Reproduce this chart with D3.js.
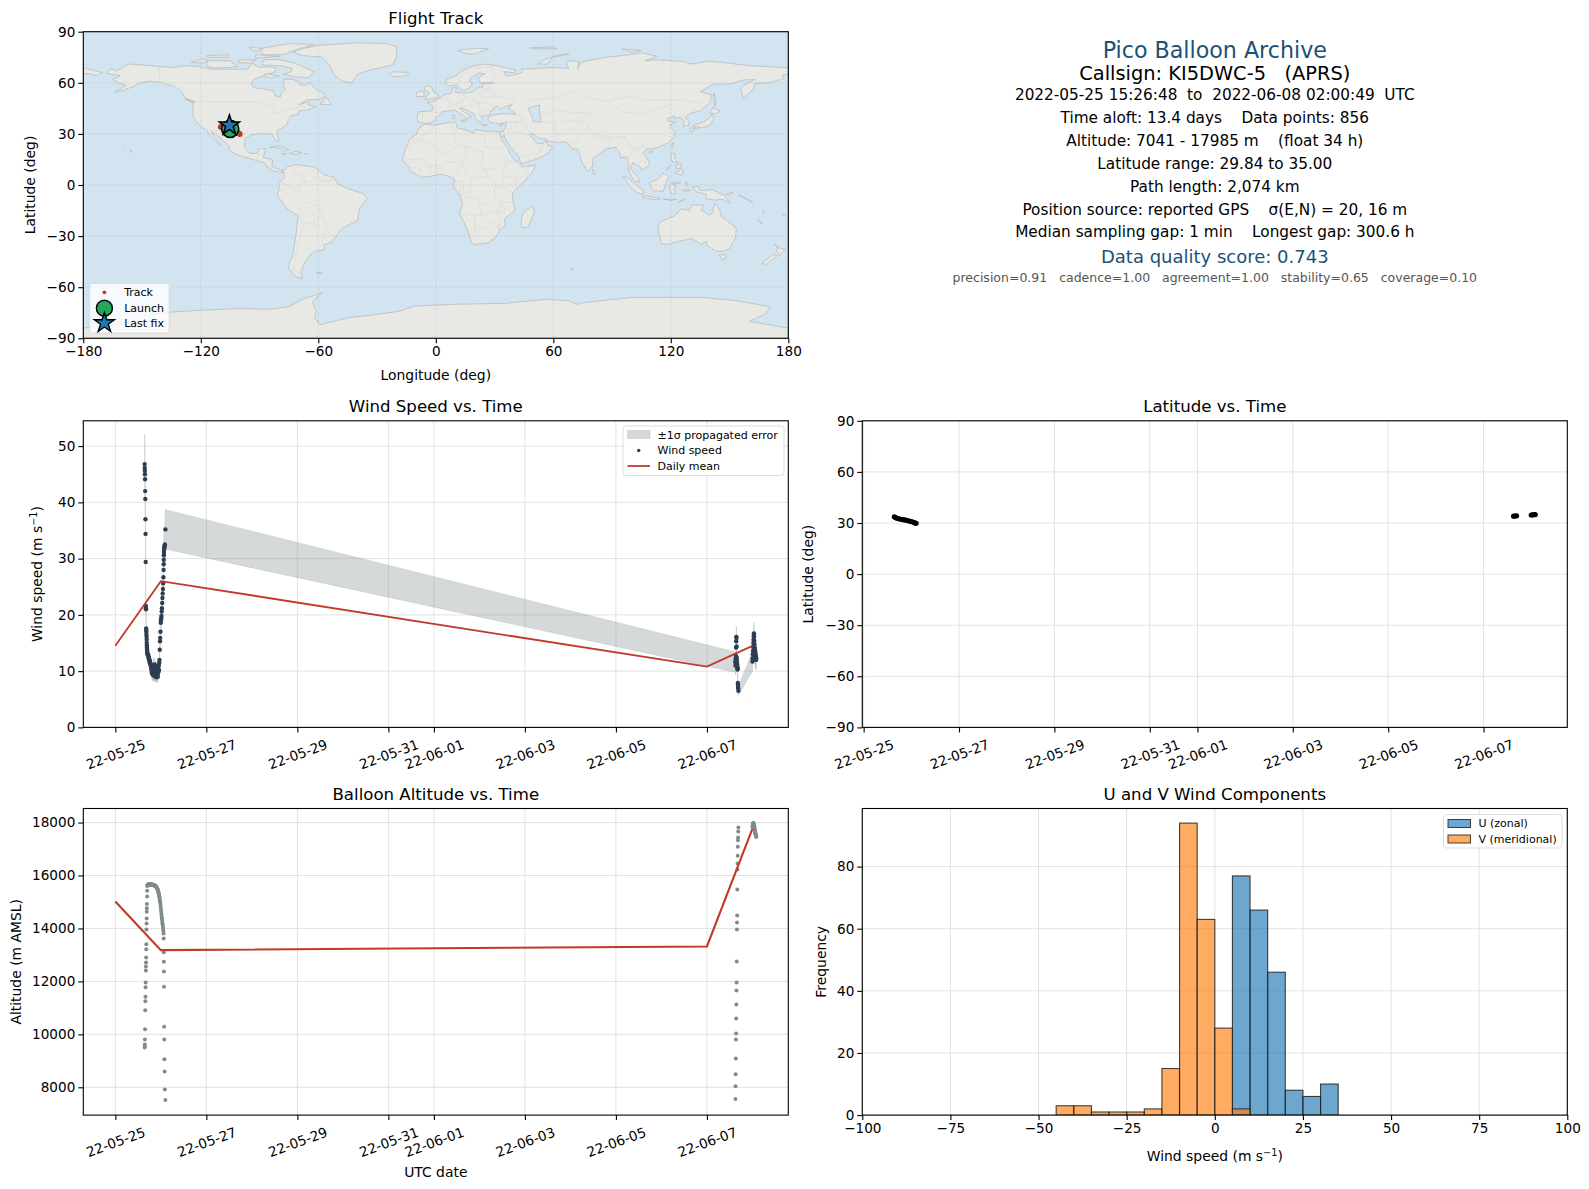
<!DOCTYPE html>
<html>
<head>
<meta charset="utf-8">
<script src="https://cdn.jsdelivr.net/npm/d3@7"></script>
<style>
  body { margin: 0; background: #fff; }
  svg { display: block; font-family: "DejaVu Sans", sans-serif; }
  text { white-space: pre; }
</style>
</head>
<body>
<svg id="chart" width="1589" height="1189"></svg>
<script>
// Sample times in days since 2022-05-25 00:00 UTC
const flightDays = [
  .644, .646, .648, .650, .653, .656, .659, .662, .664, .667,
  .670, .672, .674, .677, .679, .681, .684, .686, .688, .690,
  .692, .694, .697, .699, .701,
  .705, .711, .716, .722, .728, .733, .738, .744, .749, .754,
  .760, .765, .770, .776, .781, .787, .792, .797, .803, .808,
  .813, .819, .824, .830, .835, .841, .846, .851, .857, .862,
  .868, .873, .878, .884, .889, .895, .900, .905, .911, .916,
  .922, .927, .932, .938, .943, .949, .954, .959, .965, .970,
  .976, .981, .986, .992, .997, 1.003, 1.008, 1.014, 1.019, 1.024,
  1.030, 1.035, 1.040, 1.046, 1.051, 1.056, 1.060, 1.062, 1.064, 1.066,
  1.068, 1.070, 1.073, 1.076, 1.079, 1.083, 1.088, 1.100,
  13.625, 13.628, 13.631, 13.634, 13.637, 13.640, 13.643, 13.646, 13.649, 13.652,
  13.655, 13.658, 13.661, 13.664, 13.667, 13.670, 13.673, 13.676, 13.679, 13.682,
  13.685, 13.688, 13.691,
  14.000, 14.004, 14.008, 14.012, 14.016, 14.020, 14.024, 14.028, 14.032, 14.035,
  14.038, 14.041, 14.044, 14.047, 14.050, 14.053, 14.056, 14.059, 14.062, 14.065,
  14.068, 14.071, 14.074, 14.077, 14.080, 14.084
];
const altitudeValues = [
  9500, 9560, 9620, 9810, 10190, 10910, 11250, 11420, 11780, 11960,
  12410, 12560, 12710, 12900, 13210, 13400, 13960, 14190, 14380, 14630,
  14760, 14920, 15210, 15420, 15600,
  15630, 15650, 15660, 15650, 15660, 15670, 15660, 15670, 15660, 15670,
  15650, 15660, 15670, 15650, 15660, 15670, 15650, 15660, 15640, 15650,
  15660, 15640, 15650, 15630, 15650, 15640, 15620, 15640, 15620, 15630,
  15610, 15620, 15600, 15600, 15590, 15580, 15560, 15550, 15530, 15510,
  15500, 15480, 15450, 15420, 15400, 15360, 15320, 15280, 15220, 15170,
  15100, 15030, 14980, 14900, 14800, 14700, 14620, 14530, 14420, 14360,
  14280, 14200, 14140, 14060, 13980, 13900, 13810, 13620, 13100, 12740,
  12370, 11800, 10290, 9810, 9060, 8600, 7920, 7520,
  7560, 8040, 8490, 9090, 9810, 10030, 10600, 11130, 11660, 11960,
  12750, 13960, 14220, 14490, 15470, 16230, 16450, 16750, 17090, 17330,
  17430, 17660, 17810,
  17840, 17880, 17920, 17950, 17970, 17985, 17960, 17930, 17900, 17880,
  17850, 17820, 17790, 17760, 17730, 17700, 17670, 17640, 17610, 17590,
  17570, 17550, 17530, 17510, 17480, 17450
];
const windValues = [
  46.8, 46.1, 45.6, 45.0, 44.1, 42.0, 40.6, 37.0, 34.4, 29.4,
  21.6, 21.2, 21.0, 17.6, 17.3, 17.0, 16.5, 16.1, 15.6, 15.0,
  14.6, 14.2, 13.9, 13.6, 13.3,
  13.1, 13.0, 12.8, 12.9, 12.6, 12.4, 12.3, 12.1, 11.9, 11.8,
  11.6, 11.4, 11.3, 11.1, 10.9, 10.6, 10.2, 10.9, 9.8, 9.6,
  10.4, 9.4, 9.9, 10.7, 9.3, 11.0, 9.7, 9.2, 10.3, 9.5,
  11.2, 9.1, 9.8, 10.5, 9.0, 9.4, 10.1, 9.2, 8.9, 9.6,
  10.4, 9.3, 9.0, 9.7, 10.8, 9.9, 11.0, 10.2, 11.5, 12.0,
  13.8, 15.3, 15.9, 17.0, 18.6, 19.0, 19.4, 19.8, 20.6, 21.2,
  22.1, 23.0, 23.8, 24.6, 25.6, 26.7, 28.0, 29.0, 29.8, 30.6,
  31.0, 31.4, 31.7, 31.9, 32.1, 32.3, 32.5, 35.2,
  11.6, 11.0, 11.9, 12.3, 12.7, 14.2, 15.3, 16.1, 15.9, 14.4,
  12.4, 12.0, 11.5, 11.2, 10.9, 10.6, 10.3, 10.5, 7.9, 7.6,
  7.2, 6.9, 6.5,
  11.7, 12.3, 13.0, 13.6, 14.3, 15.0, 15.6, 16.2, 16.7, 16.5,
  16.1, 15.4, 14.8, 14.2, 13.7, 13.2, 13.8, 13.1, 12.6, 13.4,
  12.9, 12.4, 12.1, 12.7, 12.0, 12.3
];
const windSigma = [
  5.3, 5.2, 5.1, 5.0, 4.9, 4.7, 4.5, 4.1, 3.8, 3.3,
  2.4, 2.4, 2.3, 2.0, 1.9, 1.9, 1.8, 1.8, 1.7, 1.7,
  1.6, 1.6, 1.5, 1.5, 1.5,
  1.5, 1.5, 1.5, 1.5, 1.4, 1.4, 1.4, 1.4, 1.3, 1.3,
  1.3, 1.3, 1.3, 1.3, 1.2, 1.2, 1.2, 1.2, 1.1, 1.1,
  1.2, 1.1, 1.1, 1.2, 1.1, 1.2, 1.1, 1.0, 1.2, 1.1,
  1.2, 1.0, 1.1, 1.2, 1.0, 1.1, 1.1, 1.0, 1.0, 1.1,
  1.2, 1.0, 1.0, 1.1, 1.2, 1.1, 1.2, 1.1, 1.3, 1.3,
  1.5, 1.7, 1.8, 1.9, 2.1, 2.1, 2.1, 2.2, 2.3, 2.3,
  2.4, 2.5, 2.6, 2.7, 2.8, 2.9, 3.1, 3.2, 3.2, 3.3,
  3.3, 3.4, 3.4, 3.4, 3.4, 3.4, 3.4, 3.5,
  1.8, 1.7, 1.8, 1.8, 1.8, 1.9, 1.9, 1.9, 1.9, 1.8,
  1.7, 1.6, 1.5, 1.4, 1.4, 1.3, 1.3, 1.3, 1.0, 1.0,
  0.9, 0.9, 0.8,
  1.7, 1.8, 1.8, 1.9, 1.9, 1.9, 1.9, 2.0, 2.0, 1.9,
  2.0, 1.9, 1.9, 1.8, 1.8, 1.8, 1.8, 1.8, 1.7, 1.8,
  1.8, 1.7, 1.7, 1.8, 1.7, 1.7
];

// Daily means
const meanDays = [0, 1, 13, 14];
const meanWind = [14.5, 26.0, 10.8, 14.5];
const meanAltitude = [15020, 13180, 13320, 17770];

// Latitude samples
const latDays = [.644, .67, .70, .74, .78, .82, .86, .90, .94, .98, 1.02, 1.06, 1.08, 1.10, 13.63, 13.66, 13.69, 14.00, 14.03, 14.06, 14.084];
const latValues = [33.6, 33.2, 32.8, 32.5, 32.2, 32.0, 31.8, 31.6, 31.3, 31.0, 30.7, 30.3, 30.0, 29.84, 34.0, 34.1, 34.2, 34.7, 34.8, 34.9, 35.0];

// Track on the map
const trackLon = [-105.2, -104.4, -103.6, -102.8, -102, -101.2, -100.6, -100.1, -109.9, -109.3, -108.6, -107.8];
const trackLat = [33.5, 32.9, 32.4, 32, 31.6, 31, 30.4, 29.84, 34, 34.4, 34.8, 35];
const launchPoint = [-105, 33];
const lastFixPoint = [-105.4, 35];

// Histogram: counts per 5 m/s bin, keyed by bin left edge
const binEdgesU = [5, 10, 15, 20, 25, 30];
const countsU = [77, 66, 46, 8, 6, 10];
const binEdgesV = [-45, -40, -35, -30, -25, -20, -15, -10, -5, 0, 5];
const countsV = [3, 3, 1, 1, 1, 2, 15, 94, 63, 28, 2];
const binWidth = 5;

const dateTicks = ["2022-05-25", "2022-05-27", "2022-05-29", "2022-05-31", "2022-06-01", "2022-06-03", "2022-06-05", "2022-06-07"];
const lonTicks = [-180, -120, -60, 0, 60, 120, 180];
const latTicks = [-90, -60, -30, 0, 30, 60, 90];
const windTicks = [0, 10, 20, 30, 40, 50];
const altTicks = [8000, 10000, 12000, 14000, 16000, 18000];
const histXTicks = [-100, -75, -50, -25, 0, 25, 50, 75, 100];
const histYTicks = [0, 20, 40, 60, 80];

const infoLines = [
  "2022-05-25 15:26:48  to  2022-06-08 02:00:49  UTC",
  "Time aloft: 13.4 days    Data points: 856",
  "Altitude: 7041 - 17985 m    (float 34 h)",
  "Latitude range: 29.84 to 35.00",
  "Path length: 2,074 km",
  "Position source: reported GPS    σ(E,N) = 20, 16 m",
  "Median sampling gap: 1 min    Longest gap: 300.6 h"
];

// Coastlines, [lon, lat] rings
const landRings = [
  // North America
  [[-168,65.5],[-166,68.3],[-163,67],[-157,71],[-150,70.5],[-141,69.6],[-135,69],[-128,70],[-120,69.5],[-115,68],[-108,68],[-100,68],[-96,68],[-94,71.5],[-90,69],[-85,69.5],[-81.5,68.5],[-82,66.5],[-87,64.5],[-93,62],[-94.5,59],[-92.5,57],[-88,56.5],[-82.5,55],[-82,52.5],[-79.5,51.5],[-79,54],[-77,56],[-78,59],[-77.5,62.3],[-73,62],[-70,60.8],[-69.5,58.8],[-66,58.8],[-64.5,60.3],[-61,56],[-58,54.5],[-56,52.3],[-60,50.2],[-66,50],[-70,47],[-65,49],[-65,47],[-61,46],[-66,44],[-70,43.5],[-70,41.7],[-74,40.5],[-75.5,37.5],[-76,35],[-81,32],[-81,30],[-80,26],[-81,25.2],[-82.8,28],[-84,30],[-89,30.2],[-94,29.5],[-97.3,27.5],[-97.7,22],[-95,18.5],[-91,18.7],[-90.5,21],[-87,21.5],[-88,16],[-83.3,15],[-83.7,11],[-80,9],[-77.5,8.7],[-79,7.5],[-83,8.2],[-85.7,10],[-87.5,13],[-92,14.5],[-96,15.8],[-102,18],[-105.5,20.5],[-105.5,23],[-109,26.5],[-112.5,30],[-114.7,31.5],[-113,28],[-110,24],[-110,23],[-112,25],[-115,28.5],[-116.8,32],[-120.5,34.5],[-124,40],[-124,47],[-123,49],[-128,51],[-130,55],[-134,58],[-140,60],[-146,61],[-151,60],[-154,58],[-160,55.5],[-164,54.5],[-158,58.5],[-162,60],[-165,62],[-161,64.3]],
  // South America
  [[-77.5,8.7],[-75.5,10.7],[-72,12],[-68,11.5],[-62,10.5],[-57,6],[-52,4.5],[-50,0.5],[-44,-2.5],[-37,-5],[-35,-8],[-39,-14],[-40,-21],[-48,-25.5],[-53.5,-34],[-57,-35],[-57,-38],[-62,-39],[-65,-42],[-67,-46],[-69,-51],[-68,-55],[-72,-53.5],[-75.5,-48],[-73,-41],[-71.5,-30],[-70.3,-18],[-76,-14],[-81,-6],[-80,-2],[-80,1],[-77.5,4],[-77.5,7.5],[-79,7.5]],
  // Eurasia
  [[-9,37],[-9.5,39],[-9,43],[-2,43.5],[-1.2,46],[-4.5,48.5],[-1.5,48.7],[2,51],[4.5,53],[8,54],[8.5,57],[10.5,57.5],[10,54.5],[14,54],[19,54.5],[21,57],[24,57.5],[23.5,59.3],[28,59.7],[30,60],[25,60],[22.5,60],[21.5,63],[25,65.3],[22,65.7],[17.5,62.5],[17.5,60.5],[19,59.8],[16.5,56.5],[14.3,55.5],[12.7,56],[11,59],[7,58],[5,60],[5.5,62],[10,64],[14,67.5],[19,70],[25,71],[31,70],[41,67.5],[40,66],[34.5,66.5],[36,64],[40,64.7],[44,66],[44,68],[53,68.5],[60,69],[68,68.5],[67,71],[68,73],[73,72.7],[72.5,68],[74,72],[80,73.5],[87,75],[99,76.5],[105,77.7],[113,75.5],[107,73],[113,73.5],[127,72.5],[130,71],[140,72.7],[150,71.5],[160,70],[170,69.5],[180,68.8],[180,65],[177,64.5],[178,62.5],[170,60],[163,59.8],[162,56],[157,51],[155.7,56],[156.5,58],[163,62],[156,61.5],[151,59.3],[142,59.3],[135,54.7],[141,53],[140,48.5],[135,43.5],[130.7,42.3],[127.5,39.7],[129.5,37],[129,35],[126.3,34.5],[126.7,37.5],[125,39.7],[121.5,39],[122,40.5],[118,39],[119,37.2],[122.5,37],[119.3,35],[122,31],[121.5,28],[119,25],[114,22.3],[110,21],[108,21.5],[106,19],[109,13.5],[109,11.5],[105,8.7],[105,10],[102.5,12],[100.8,13.4],[99.3,10],[101.5,6.8],[103.5,4],[104,1.3],[101,3],[98.5,8],[98.3,14],[97.5,16.5],[94.5,16],[94,18.5],[92,22],[90,22],[87,21],[85,19.5],[80.3,15.5],[80,11],[77.5,8],[75,12.5],[73,19],[72.5,21],[70,21],[68,23.5],[66.5,25.3],[61.5,25],[57,25.8],[56.3,27],[52,27.5],[50,30],[48,30],[50,26.5],[51.5,24.5],[54.5,24.2],[56.3,26],[57,23.5],[59.8,22.3],[57.5,19],[55,17],[52,15.5],[45,12.8],[43.3,12.8],[42.5,16.5],[39,21],[35,28],[34.8,29.5],[34,28],[32.6,30],[32.5,31.2],[34.3,31.3],[35.8,34.5],[36,36.7],[32,36],[30,36.3],[27.3,37],[26.5,39.5],[29,41],[35,42],[41,41.5],[38,44.5],[36.7,45.2],[39,47.2],[35,46],[33.5,44.5],[31,46.5],[28,43.5],[28,41.5],[26,40.8],[23,40.3],[24,38],[22.5,36.5],[20,39.5],[19.3,42],[14,45],[12.3,45.3],[13,44],[16,41.8],[18.5,40],[16.7,40],[16,38],[15,40],[12,42],[10,44],[7,43.7],[3.3,43],[3,41.8],[0,39.7],[-0.5,38],[-2,36.8],[-5.5,36]],
  // Africa
  [[-5.8,35.8],[-1,35.1],[10,37.2],[11,33.5],[15,32.3],[19.5,30.3],[20,32.5],[25,31.7],[32.3,31.2],[32.6,30],[34,26],[37,21],[38,18],[40,15],[43.2,12],[44,10.5],[51.2,11.8],[49,7],[42,-1.5],[39,-5],[39.5,-10],[40.5,-15],[35,-20],[35.5,-24],[32.8,-26],[31,-30],[27,-34],[20,-35],[18.3,-34],[17,-29],[14.5,-22],[12,-17],[13.7,-11],[12,-5.5],[9,-1],[9.5,3.5],[5,5.8],[2,6.3],[-3,5],[-7.5,4.5],[-12,7.5],[-17,14.7],[-16,20],[-13,27.5],[-9.5,30],[-9,33]],
  // Antarctica
  [[-180,-90],[-180,-84],[-160,-82],[-150,-77],[-140,-75],[-120,-73.5],[-100,-72.5],[-85,-73],[-75,-71.5],[-68,-67],[-58,-63.3],[-60,-65],[-63,-69],[-61,-74],[-62,-78],[-59,-82],[-45,-78],[-30,-76],[-18,-74],[-11,-71],[10,-70],[35,-69.5],[57,-67],[68,-68],[72,-70],[76,-69],[100,-66],[136,-66],[154,-68],[171,-71.5],[168,-76],[160,-80],[180,-84],[180,-90]],
  // Chukotka piece across the date line
  [[-180,68.8],[-175,67.3],[-170,66],[-173,64.3],[-178,65.5],[-180,65]],
  // Greenland
  [[-73,78],[-68,80],[-60,82],[-40,83.5],[-25,83],[-20,81],[-20,75],[-22,70.5],[-32,68],[-40,65],[-43,60],[-48,61],[-52,65],[-54,70],[-58,75],[-68,76]],
  // Canadian Arctic
  [[-80,73.7],[-72,71.5],[-68,69.5],[-62,66.5],[-65,63],[-72,63.5],[-78,65],[-74,66.5],[-73,68.3],[-79,70],[-89,70.5],[-88,73.5]],
  [[-117,73],[-105,73],[-101,69.5],[-113,68.5],[-117,70]],
  [[-125,72],[-119,74.2],[-116,73],[-119,71.5]],
  [[-90,80],[-75,83],[-62,82.5],[-70,80],[-78,76.5],[-88,76.5]],
  [[-92,76.5],[-80,75.5],[-92,74.5]],
  [[-117,76],[-106,76.5],[-106,75],[-117,75]],
  [[-95,81],[-88,80],[-92,78.5],[-95,80]],
  [[-87,65.5],[-80,64],[-84,62.7],[-87,63.5]],
  [[-100,73.5],[-92,73.5],[-95,71.5],[-101,72]],
  [[-59,47.5],[-56,51.5],[-53,47]],
  [[-128,50.7],[-123.5,48.5],[-125,48.8]],
  // Caribbean, Pacific
  [[-85,22],[-80,23],[-75,20.7],[-77.5,19.9],[-78,20.7],[-82,22.5]],
  [[-74.5,18.5],[-72,19.9],[-68.5,18.8],[-71,18]],
  [[-78.3,18.4],[-76.3,18.2],[-77,17.8]],
  [[-67,18.5],[-65.7,18.4],[-66,18]],
  [[-156,20.3],[-155,19.6],[-155.8,19]],
  [[-159.7,22.2],[-159.3,22],[-159.5,21.8]],
  [[-61,-51.5],[-58,-51.5],[-59,-52.3]],
  // Europe islands
  [[-24,65.5],[-22,66.4],[-15,66.2],[-13.7,65],[-18,63.5],[-22.5,63.9]],
  [[-5.5,50],[1.3,51.2],[1.5,52.8],[-1.5,55],[-2,57.5],[-5,58.5],[-6,56],[-3,54],[-5,52]],
  [[-10,52],[-6,52],[-6,54.5],[-8,55.2],[-10,54]],
  [[11,79],[20,80.3],[27,80],[20,77],[16,77]],
  [[52,71],[56,74],[68,77],[60,75.5],[57,71]],
  [[95,80],[105,79],[100,78]],
  [[48,80.5],[60,81],[62,80],[50,80]],
  [[8.3,41],[9.7,41],[9.5,39],[8.5,39]],
  [[12.5,38],[15.5,38.2],[15,36.7]],
  [[23.5,35.5],[26.3,35.2],[24.5,34.9]],
  [[32.3,35],[34.5,35.6],[33.5,34.7]],
  // East Asia
  [[142,54],[143,49],[142.5,46],[142,50]],
  [[131,34.3],[136,33.5],[140,35],[142,39.5],[141,41.5],[139.5,39],[136.5,37],[132.5,35.5]],
  [[140,42],[141.5,45.5],[145.3,43.5],[143,42]],
  [[130,33.5],[132,33],[131,31],[130,31.5]],
  [[132.5,34],[134.5,34.2],[134,33.3],[132.8,32.8]],
  [[120.2,23],[121.5,25.2],[120.8,22]],
  [[108.7,19.3],[110.5,20],[110.2,18.5]],
  [[120,18.5],[122,18.5],[122,15],[124,13],[121,13.5],[120,16]],
  [[122,7],[125.5,9.5],[126.5,7],[125.5,5.8]],
  [[122.5,11.5],[125.5,12.5],[125,10],[123,9.5]],
  [[117.3,8.5],[119.5,11.3],[118.5,9.3]],
  [[79.8,9.5],[81.8,7.5],[80.5,6]],
  // Indonesia, Oceania
  [[109,1.5],[113,3],[116,7],[119,5],[117.7,1],[116,-3.8],[111,-3.3],[109.5,0]],
  [[95.3,5.5],[98,4],[104,-1.5],[106,-3],[105.8,-5.8],[102,-4],[99,-0.5]],
  [[105.3,-6.8],[108,-6.5],[114.5,-7.7],[114,-8.7],[106,-7.6]],
  [[120,1],[125,1.5],[121,0.4],[123,-1],[121.5,-2],[122.7,-5],[120.5,-5.5],[119.5,-3],[119.5,-0.5]],
  [[131,-1],[134,-0.8],[135,-3.3],[141,-2.7],[147,-6],[150.5,-10.5],[146,-8.3],[143,-9],[138,-8],[138,-5.5],[133,-4]],
  [[116,-8.3],[119,-8.4],[123,-8.3],[120,-9]],
  [[124,-10],[127,-8.4],[125.5,-9.3]],
  [[127.5,2],[128.5,1],[128,-0.8]],
  [[126,-3],[130,-3],[128,-3.7]],
  [[114,-22],[113.5,-26],[115,-34.3],[118,-35],[124,-33],[131,-31.5],[135.5,-35],[138,-33],[138.5,-35.5],[143,-38.8],[146.5,-39],[150,-37.5],[153,-31],[153.5,-25.5],[149,-21],[146,-18.8],[145,-14.8],[142.5,-10.8],[141,-16.5],[140,-17.7],[135.5,-15],[136.8,-12],[131,-11.5],[129.5,-15],[125.5,-14],[122,-18],[117,-20.5]],
  [[144.7,-41],[148.3,-41],[148,-43.3],[146,-43.6]],
  [[172.7,-34.5],[175.5,-37],[178.5,-37.7],[177,-39.5],[175.3,-41.6],[175,-40],[174,-39],[174.7,-37]],
  [[172.7,-40.5],[174.3,-41.7],[171,-44.5],[169,-46.6],[166.5,-46],[168.5,-44]],
  [[148,-5.5],[152,-4],[150,-6]],
  [[155,-6],[160,-9],[162,-10.5],[159,-8.5]],
  [[164,-20],[167,-22.5],[165.5,-21.8]],
  [[167,-15],[168,-17],[167.2,-16.5]],
  [[177.5,-17.5],[178.5,-18],[177.4,-18.2]],
  [[69,-49],[70.5,-49.5],[69,-49.7]],
  // Madagascar
  [[49.3,-12],[50.5,-16],[47,-25],[44,-25],[43.5,-21],[44.5,-16.5]]
];

// Inland water drawn back over the land
const waterRings = [
  [[47,45],[53,47],[53,42],[54,37],[50,37],[49,40.5]]
];

// Country borders, light polylines
const borderLines = [
  [[-141,69.6],[-141,60],[-135,59],[-130,55]],
  [[-123,49],[-95,49],[-88,48],[-83,46],[-82.5,42],[-79,43],[-76,44.5],[-71,45],[-67.5,47],[-67,45]],
  [[-117,32.5],[-108,31.5],[-106.5,31.7],[-101,29.5],[-97.3,26]],
  [[-92,14.6],[-91,17],[-89,17.9],[-88.3,18.4]],
  [[-89.3,14],[-88.2,15.7]],[[-87,13],[-83.2,15]],[[-85.7,11],[-83.7,11]],[[-83,8.3],[-82.6,9.6]],[[-77.4,8.7],[-77.9,7.2]],
  [[-72,12],[-72.5,7.5],[-67.5,6],[-67,1.5]],[[-67,1.5],[-64,2],[-60.7,5]],[[-60.7,5],[-60,8.5]],[[-57.2,6],[-58,2]],[[-54,5.8],[-54,2.3]],[[-54,2.3],[-51.5,4.4]],
  [[-60.7,5],[-58,2],[-54,2.3]],[[-67,1.5],[-70,-0.5],[-70,-4.2]],[[-70,-4.2],[-75,-0.1],[-78.7,1.4]],[[-75,-0.1],[-78,-3],[-80.3,-3.4]],[[-70,-4.2],[-74,-7.5],[-70.5,-11]],
  [[-69,-11],[-69,-16],[-69.5,-17.5]],[[-69,-11],[-65.3,-10],[-60,-13.5],[-58,-16.3],[-57.7,-18]],[[-57.7,-18],[-62.5,-22]],[[-67.2,-23],[-70,-32],[-71.5,-40],[-72.5,-50],[-68.5,-52.5]],
  [[-69.5,-17.5],[-68,-23]],[[-67,-23],[-62.5,-22]],[[-62.5,-22],[-58,-27],[-54.6,-26]],[[-57.7,-18],[-55.5,-24],[-54.6,-26]],[[-58,-34],[-57.6,-30.2],[-53.5,-33.7]],[[-57.6,-30.2],[-53.7,-27]],
  [[-1.5,35],[-2,32],[-8.7,28]],[[-13,27.5],[-8.7,27.3],[-8.7,26],[-12,26],[-13,21.3],[-17,21.3]],[[-8.7,27.3],[-4.8,25],[1.2,21],[3.2,19],[6,19.5],[12,23.5]],[[9.5,30],[10,24.5],[12,23.5]],
  [[8.5,37],[8,33],[9.5,30]],[[11.5,33],[9.5,30]],[[25,31.5],[25,22]],[[25,22],[37,22]],[[12,23.5],[15,23],[24,19.5],[25,20]],[[24,19.5],[24,15.5],[23,11],[27,5]],[[15,23],[15.5,16.5],[13.5,13.5]],
  [[13.5,13.5],[15,10],[15.5,7.5]],[[2.8,12],[4,13.5],[13.5,13.3]],[[13.5,13.3],[9,4.7]],[[-12,14.8],[-5.5,15.5],[-5,10.5],[3,12]],[[-17,16],[-12,14.8]],[[-15,11],[-8,10],[-8,4.5]],[[-3,5],[-3,11]],[[1,6],[0,11]],[[2.8,6.3],[3,12]],
  [[24,9],[33,10],[35,10]],[[36,14.5],[35,10],[34,5],[42,4],[48,8],[43,11]],[[36.5,14.5],[43,12.7]],[[34,4.5],[34,-1],[39.5,-4.7]],[[41,-1.7],[41,4]],
  [[12.5,-5.7],[18,-4],[17.5,-0.5],[18.5,4],[27,5],[31,3],[29.5,-4],[30.5,-8],[28,-12],[22,-11],[22,-8],[17,-7],[12.5,-6]],[[15,7.5],[18.5,4]],[[9.8,2.2],[14,2],[14,-2],[11,-4]],
  [[12,-17.3],[23,-17.8],[22,-11]],[[23,-17.8],[30,-15.5],[33,-14],[33,-9.5],[30.5,-8]],[[30,-1],[34,-1]],[[33,-9.5],[40,-10.5]],[[35,-11.5],[35,-16],[30.5,-16],[33,-21],[32,-26]],
  [[20,-18],[20,-28],[17,-28.5]],[[20,-24],[25,-25.5],[29,-22],[25.5,-18]],[[29,-22],[32,-23],[32,-26]],
  [[-1.8,43.3],[3.2,42.4]],[[-9,42],[-6.5,42],[-7,37.2]],[[2.5,51],[6,49.5],[8,49],[7.5,47.5],[6,46],[7.5,44]],[[7,53.5],[6,50.8],[6,49.5]],[[14,54],[15,51],[12.2,50.3],[13.5,48.6],[10,47.5],[7.5,47.5]],
  [[19,54.4],[23.5,54],[24,50.5],[22.5,49],[19,49.5],[15,51]],[[7.5,44],[7,46],[12,47],[13.7,46]],[[13.7,46],[16.5,46.5],[22,48],[26.6,48.2],[29.7,45.3]],[[22,48],[22.5,44],[28,44]],[[22.5,44],[23,41],[26,41.5],[28,42]],[[19.3,42],[21,41],[23,41]],
  [[24,51.6],[32,52.3],[40,49.6],[38,47]],[[21,56],[28,56],[27.5,59.5]],[[23.5,54],[28,56],[32,52.3]],[[12,59],[12,63],[17,68.5],[20.5,69],[29,69.5]],[[29,69.5],[30,62],[27.5,60.5]],[[23.7,66],[20.5,69]],
  [[47,50],[60,51],[71,55],[80,51],[87,49]],[[52,42],[56,41.3],[61,44],[71,42.5],[80,42]],[[87,49],[98,52],[107,50],[117,50]],[[117,50],[127,50],[135,48],[131,43]],[[87,49],[96,43],[105,41.7],[112,44],[119,47],[117,50]],
  [[80,42],[74,39],[78,35],[79,31],[88,28],[97,28],[98,24],[102,21.5],[106,22.8],[108,21.5]],[[44.5,39.5],[46,35],[48,30]],[[61,36.5],[61,31],[62,25]],[[54,37.3],[61,36.5]],[[61,36.5],[66,37.3],[71,38],[74.5,37],[71,34],[66.5,30],[61,29.5]],
  [[68,23.8],[71,25],[74.5,31],[78,35]],[[79,31],[81,28.5],[88,26.5],[92,28],[97,28]],[[88,26],[88.5,22],[92.5,21]],[[92,21],[94,24],[97,28]],[[98,24],[101,21],[98,16],[99,11]],[[101,21],[105,16],[105.5,14],[102.5,12]],[[102,21.5],[107.5,16],[107,12]],
  [[39,32],[46,29],[48,29.5]],[[36,36.7],[42,37.2],[41,34.5],[36,32.5]],[[39,32],[35.5,29.5]],[[36,36.7],[44.5,37.2],[44.5,39.5],[42,41.5]],[[43,16.5],[52,19],[55,20],[52,23],[51.5,24.5]],[[52,19],[56,24.5]],
  [[124.5,40],[130.5,42.5]],[[126.5,38],[128.5,38.5]]
];

const colors = {
  ocean: "#d3e4f1", land: "#e8e8e4", coast: "#b9bdbe", border: "#dcdcd8",
  grid: "#e2e2e2", track: "#c0392b", launch: "#22a85a", lastFix: "#1f77b4",
  wind: "#2c3e50", band: "#7f8c8d", alt: "#7f8c8d", mean: "#c0392b",
  title: "#1a5276", u: "#1f77b4", v: "#ff7f0e"
};

const svg = d3.select("#chart");

const toDate = d => new Date(Date.UTC(2022, 4, 25) + d * 864e5);
const parseDay = d3.utcParse("%Y-%m-%d");

const leftCol = { x: 83.3, w: 705 };
const rightCol = { x: 862.3, w: 705 };
const rowH = 306.6;
const rows = [31.7, 420.8, 808.5];

// Draws frame, grid, axes. Marks are added by the caller in the returned group
function makePanel(id, col, top, x, y, xTicks, yTicks, xFormat, yFormat, opts = {}) {
  const g = svg.append("g").attr("transform", `translate(${col.x},${top})`);
  const defs = svg.append("defs");
  defs.append("clipPath").attr("id", "clip-" + id).append("rect").attr("width", col.w).attr("height", rowH);

  const back = g.append("g");
  const grid = g.append("g").attr("class", "grid")
    .attr("stroke-opacity", opts.gridOpacity || 1)
    .attr("stroke-width", opts.gridWidth || 1);
  const marks = g.append("g").attr("clip-path", `url(#clip-${id})`);

  const gridColor = opts.gridColor || colors.grid;
  grid.selectAll(".gx").data(xTicks).join("line").attr("class", "gx")
    .attr("x1", d => x(d)).attr("x2", d => x(d)).attr("y1", 0).attr("y2", rowH)
    .attr("stroke", gridColor).attr("stroke-dasharray", opts.gridDash || null);
  grid.selectAll(".gy").data(yTicks).join("line").attr("class", "gy")
    .attr("y1", d => y(d)).attr("y2", d => y(d)).attr("x1", 0).attr("x2", col.w)
    .attr("stroke", gridColor).attr("stroke-dasharray", opts.gridDash || null);

  const ax = g.append("g").attr("transform", `translate(0,${rowH})`)
    .call(d3.axisBottom(x).tickValues(xTicks).tickFormat(xFormat).tickSize(5).tickSizeOuter(0));
  const ay = g.append("g")
    .call(d3.axisLeft(y).tickValues(yTicks).tickFormat(yFormat).tickSize(5).tickSizeOuter(0));
  for (const a of [ax, ay]) {
    a.attr("font-family", null).attr("font-size", 13.6);
    a.select(".domain").remove();
    a.selectAll("line").attr("stroke", "#000").attr("stroke-width", 1.1);
    a.selectAll("text").attr("fill", "#000");
  }

  if (opts.rotateX) {
    ax.selectAll("text")
      .attr("y", 0).attr("dy", "0.35em").attr("text-anchor", "middle")
      .attr("transform", "translate(0,27) rotate(-20)");
  }

  const frame = g.append("rect").attr("width", col.w).attr("height", rowH)
    .attr("fill", "none").attr("stroke", "#000").attr("stroke-width", 1.1);

  return { g, back, grid, marks, frame };
}

function addTitle(col, top, text) {
  svg.append("text").attr("x", col.x + col.w / 2).attr("y", top - (top > 100 ? 9 : 8))
    .attr("text-anchor", "middle").attr("font-size", 16.6).text(text);
}

function addXLabel(cx, y, text) {
  return svg.append("text").attr("x", cx).attr("y", y)
    .attr("text-anchor", "middle").attr("font-size", 13.9).text(text);
}

function addYLabel(x, cy, text) {
  return svg.append("text")
    .attr("transform", `translate(${x},${cy}) rotate(-90)`)
    .attr("text-anchor", "middle").attr("font-size", 13.9).text(text);
}

function windUnits(sel, base) {
  sel.text(base + " (m s");
  sel.append("tspan").attr("dy", -5).attr("font-size", 9.7).text("−1");
  sel.append("tspan").attr("dy", 5).text(")");
}

// Flight Track map
const lonScale = d3.scaleLinear().domain([-180, 180]).range([0, leftCol.w]);
const latMapScale = d3.scaleLinear().domain([-90, 90]).range([rowH, 0]);
const mapPanel = makePanel("map", leftCol, rows[0], lonScale, latMapScale, lonTicks, latTicks, d3.format("d"), d3.format("d"),
  { gridColor: "#9aa5ac", gridDash: "2,2", gridOpacity: 0.45, gridWidth: 0.7 });
mapPanel.back.append("rect").attr("width", leftCol.w).attr("height", rowH).attr("fill", colors.ocean);
const ringPath = d3.line().x(d => lonScale(d[0])).y(d => latMapScale(d[1]));
const mapBack = mapPanel.back.append("g").attr("clip-path", "url(#clip-map)");
mapBack.selectAll(".land").data(landRings).join("path").attr("class", "land")
  .attr("d", d => ringPath(d) + "Z")
  .attr("fill", colors.land).attr("stroke", colors.coast).attr("stroke-width", 0.8);
mapBack.selectAll(".water").data(waterRings).join("path").attr("class", "water")
  .attr("d", d => ringPath(d) + "Z")
  .attr("fill", colors.ocean).attr("stroke", colors.coast).attr("stroke-width", 0.8);
mapBack.selectAll(".border").data(borderLines).join("path").attr("class", "border")
  .attr("d", ringPath).attr("fill", "none").attr("stroke", colors.border).attr("stroke-width", 0.8);

mapPanel.marks.selectAll(".track").data(trackLon).join("circle")
  .attr("cx", d => lonScale(d)).attr("cy", (d, i) => latMapScale(trackLat[i]))
  .attr("r", 2.8).attr("fill", colors.track);
mapPanel.marks.append("circle")
  .attr("cx", lonScale(launchPoint[0])).attr("cy", latMapScale(launchPoint[1]))
  .attr("r", 8.6).attr("fill", colors.launch).attr("stroke", "#000").attr("stroke-width", 1.5);
const starPath = d3.symbol().type(d3.symbolStar).size(125);
mapPanel.marks.append("path").attr("d", starPath())
  .attr("transform", `translate(${lonScale(lastFixPoint[0])},${latMapScale(lastFixPoint[1])})`)
  .attr("fill", colors.lastFix).attr("stroke", "#000").attr("stroke-width", 1.5);

addTitle(leftCol, rows[0], "Flight Track");
addXLabel(leftCol.x + leftCol.w / 2, 380, "Longitude (deg)");
addYLabel(35, rows[0] + rowH / 2, "Latitude (deg)");

// legend on the map
const mapLegend = svg.append("g").attr("transform", "translate(89.7,283.5)");
mapLegend.append("rect").attr("width", 79.5).attr("height", 49.5).attr("rx", 2.5)
  .attr("fill", "#fff").attr("fill-opacity", 0.8).attr("stroke", "#d5d5d5").attr("stroke-width", 0.8);
mapLegend.append("circle").attr("cx", 14.7).attr("cy", 8.8).attr("r", 1.9).attr("fill", colors.track);
mapLegend.append("circle").attr("cx", 14.7).attr("cy", 24.7).attr("r", 8).attr("fill", colors.launch).attr("stroke", "#000").attr("stroke-width", 1.4);
mapLegend.append("path").attr("d", starPath()).attr("transform", "translate(14.7,39.5)")
  .attr("fill", colors.lastFix).attr("stroke", "#000").attr("stroke-width", 1.4);
[["Track", 8.8], ["Launch", 24.7], ["Last fix", 39.5]].forEach(([t, y]) => {
  mapLegend.append("text").attr("x", 34.5).attr("y", y).attr("dy", "0.35em").attr("font-size", 11).text(t);
});

// Info block
const infoX = rightCol.x + rightCol.w / 2;
const infoText = (y, size, fill, text) => svg.append("text").attr("x", infoX).attr("y", y)
  .attr("text-anchor", "middle").attr("font-size", size).attr("fill", fill).text(text);
infoText(58, 22.2, colors.title, "Pico Balloon Archive");
infoText(79.5, 19.4, "#000", "Callsign: KI5DWC-5   (APRS)");
infoLines.forEach((line, i) => infoText(100 + i * 22.9, 15.3, "#000", line));
infoText(263, 18, colors.title, "Data quality score: 0.743");
infoText(282, 12.5, "#555", "precision=0.91   cadence=1.00   agreement=1.00   stability=0.65   coverage=0.10");

// Time panels
const timeLeft = d3.scaleUtc().domain([toDate(-0.704), toDate(14.788)]).range([0, leftCol.w]);
const timeRight = d3.scaleUtc().domain([toDate(-0.028), toDate(14.756)]).range([0, rightCol.w]);
const dateFormat = d3.utcFormat("%y-%m-%d");
const tickDates = dateTicks.map(parseDay);

// Wind speed
const windY = d3.scaleLinear().domain([0, 54.5]).range([rowH, 0]);
const windPanel = makePanel("wind", leftCol, rows[1], timeLeft, windY, tickDates, windTicks, dateFormat, d3.format("d"), { rotateX: true });
const band = d3.area()
  .x(d => timeLeft(toDate(d)))
  .y0((d, i) => windY(windValues[i] - windSigma[i]))
  .y1((d, i) => windY(windValues[i] + windSigma[i]));
windPanel.marks.append("path").attr("d", band(flightDays))
  .attr("fill", colors.band).attr("fill-opacity", 0.33).attr("stroke", colors.band).attr("stroke-opacity", 0.2).attr("stroke-width", 1);
windPanel.marks.selectAll(".pt").data(windValues).join("circle")
  .attr("cx", (d, i) => timeLeft(toDate(flightDays[i]))).attr("cy", d => windY(d))
  .attr("r", 2.2).attr("fill", colors.wind);
const meanWindLine = d3.line().x((d, i) => timeLeft(toDate(meanDays[i]))).y(d => windY(d));
windPanel.marks.append("path").attr("d", meanWindLine(meanWind))
  .attr("fill", "none").attr("stroke", colors.mean).attr("stroke-width", 1.8);
addTitle(leftCol, rows[1], "Wind Speed vs. Time");
windUnits(addYLabel(42, rows[1] + rowH / 2, ""), "Wind speed");

const windLegend = svg.append("g").attr("transform", "translate(623,426)");
windLegend.append("rect").attr("width", 161).attr("height", 49.5).attr("rx", 2.5)
  .attr("fill", "#fff").attr("fill-opacity", 0.8).attr("stroke", "#d5d5d5").attr("stroke-width", 0.8);
windLegend.append("rect").attr("x", 4.5).attr("y", 4.5).attr("width", 22.5).attr("height", 8)
  .attr("fill", colors.band).attr("fill-opacity", 0.33).attr("stroke", colors.band).attr("stroke-opacity", 0.2);
windLegend.append("circle").attr("cx", 15.7).attr("cy", 24.5).attr("r", 1.7).attr("fill", colors.wind);
windLegend.append("line").attr("x1", 4.5).attr("x2", 27).attr("y1", 40).attr("y2", 40)
  .attr("stroke", colors.mean).attr("stroke-width", 1.8);
[["±1σ propagated error", 9], ["Wind speed", 24.5], ["Daily mean", 40]].forEach(([t, y]) => {
  windLegend.append("text").attr("x", 34.5).attr("y", y).attr("dy", "0.35em").attr("font-size", 11).text(t);
});

// Latitude
const latY = d3.scaleLinear().domain([-90, 90]).range([rowH, 0]);
const latPanel = makePanel("lat", rightCol, rows[1], timeRight, latY, tickDates, latTicks, dateFormat, d3.format("d"), { rotateX: true });
latPanel.marks.selectAll(".pt").data(latValues).join("circle")
  .attr("cx", (d, i) => timeRight(toDate(latDays[i]))).attr("cy", d => latY(d))
  .attr("r", 2.6).attr("fill", "#000");
addTitle(rightCol, rows[1], "Latitude vs. Time");
addYLabel(813, rows[1] + rowH / 2, "Latitude (deg)");

// Altitude
const altY = d3.scaleLinear().domain([6950, 18530]).range([rowH, 0]);
const altPanel = makePanel("alt", leftCol, rows[2], timeLeft, altY, tickDates, altTicks, dateFormat, d3.format("d"), { rotateX: true });
altPanel.marks.selectAll(".pt").data(altitudeValues).join("circle")
  .attr("cx", (d, i) => timeLeft(toDate(flightDays[i]))).attr("cy", d => altY(d))
  .attr("r", 2).attr("fill", colors.alt);
const meanAltLine = d3.line().x((d, i) => timeLeft(toDate(meanDays[i]))).y(d => altY(d));
altPanel.marks.append("path").attr("d", meanAltLine(meanAltitude))
  .attr("fill", "none").attr("stroke", colors.mean).attr("stroke-width", 2.1);
addTitle(leftCol, rows[2], "Balloon Altitude vs. Time");
addYLabel(21, rows[2] + rowH / 2, "Altitude (m AMSL)");
addXLabel(leftCol.x + leftCol.w / 2, 1177, "UTC date");

// Histogram
const histX = d3.scaleLinear().domain([-100, 100]).range([0, rightCol.w]);
const histY = d3.scaleLinear().domain([0, 98.7]).range([rowH, 0]);
const histPanel = makePanel("hist", rightCol, rows[2], histX, histY, histXTicks, histYTicks, d3.format("d"), d3.format("d"));
function drawBars(edges, counts, color) {
  histPanel.marks.append("g").selectAll("rect").data(counts).join("rect")
    .attr("x", (d, i) => histX(edges[i]))
    .attr("y", d => histY(d))
    .attr("width", (d, i) => histX(edges[i] + binWidth) - histX(edges[i]))
    .attr("height", d => rowH - histY(d))
    .attr("fill", color).attr("fill-opacity", 0.65)
    .attr("stroke", "#222").attr("stroke-opacity", 0.85).attr("stroke-width", 1.1);
}
drawBars(binEdgesU, countsU, colors.u);
drawBars(binEdgesV, countsV, colors.v);
addTitle(rightCol, rows[2], "U and V Wind Components");
addYLabel(826, rows[2] + rowH / 2, "Frequency");
windUnits(addXLabel(rightCol.x + rightCol.w / 2, 1161, ""), "Wind speed");

const histLegend = svg.append("g").attr("transform", "translate(1443.5,814.5)");
histLegend.append("rect").attr("width", 118.5).attr("height", 33.5).attr("rx", 2.5)
  .attr("fill", "#fff").attr("fill-opacity", 0.8).attr("stroke", "#d5d5d5").attr("stroke-width", 0.8);
[["U (zonal)", colors.u, 9], ["V (meridional)", colors.v, 24.5]].forEach(([t, c, y]) => {
  histLegend.append("rect").attr("x", 4.5).attr("y", y - 4).attr("width", 22.5).attr("height", 8)
    .attr("fill", c).attr("fill-opacity", 0.65).attr("stroke", "#222").attr("stroke-opacity", 0.85).attr("stroke-width", 1);
  histLegend.append("text").attr("x", 35).attr("y", y).attr("dy", "0.35em").attr("font-size", 11).text(t);
});
</script>
</body>
</html>
